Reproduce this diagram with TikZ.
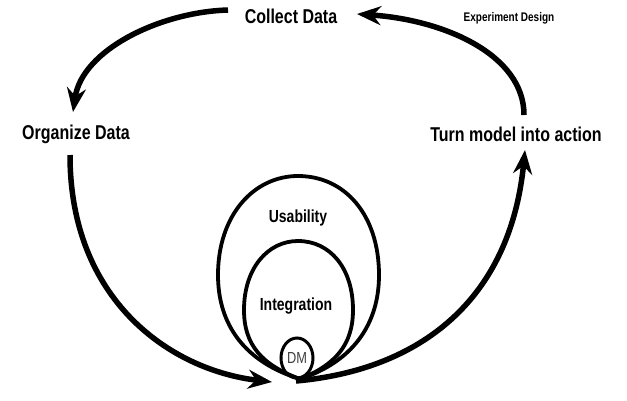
\documentclass[tikz,border=0pt]{standalone}
\usepackage{fontspec}
\setmainfont{Liberation Sans}
\newfontfamily\narrowfont[FakeStretch=0.80]{Liberation Sans}
\usetikzlibrary{arrows.meta,shapes.geometric}
\tikzset{
  lbl/.style={font=\narrowfont\bfseries\fontsize{20}{22}\selectfont, inner sep=0pt},
  inlbl/.style={font=\narrowfont\bfseries\fontsize{17.5}{20}\selectfont, inner sep=0pt},
  small/.style={font=\narrowfont\bfseries\fontsize{12.5}{14}\selectfont, inner sep=0pt},
  cyc/.style={line width=5.5pt, -{Stealth[length=24pt,width=19pt,inset=8pt]}},
  ring/.style={line width=3.8pt},
  dmstyle/.style={draw, line width=3pt, ellipse, minimum width=32pt, minimum height=40pt, inner sep=0pt, font=\narrowfont\fontsize{16}{18}\selectfont, text=black!75},
}
\begin{document}
\begin{tikzpicture}[x=1pt,y=-1pt]
\useasboundingbox (0,0) rectangle (627,400);
\fill[white] (0,0) rectangle (627,400);
% labels
\node[lbl] (collect) at (291,16) {Collect Data};
\node[small] (exp) at (509,18) {Experiment Design};
\node[lbl] (organize) at (76,134) {Organize Data};
\node[lbl] (turn) at (516,134) {Turn model into action};
% coordinates
\coordinate (tlS) at (228,10);
\coordinate (tlE) at (73,112);
\coordinate (trS) at (524,115);
\coordinate (trE) at (357,14);
\coordinate (blS) at (70,155);
\coordinate (blE) at (272,382);
\coordinate (brS) at (296,381);
\coordinate (brE) at (525,150);
\coordinate (bot) at (300,379);
% cycle arcs
\draw[cyc] (tlS) .. controls (160,12) and (82,50) .. (tlE);
\draw[cyc] (trS) .. controls (524,55) and (445,20) .. (trE);
\draw[cyc] (blS) .. controls (70,300) and (170,370) .. (blE);
\draw[cyc] (brS) .. controls (420,370) and (510,300) .. (brE);
% rings
\draw[ring] (bot) .. controls (245,362) and (218,325) .. (218,275)
  .. controls (218,215) and (254,176) .. (298,176)
  .. controls (345,176) and (379,215) .. (379,275)
  .. controls (379,325) and (352,362) .. (bot);
\draw[ring] (bot) .. controls (262,365) and (244,345) .. (244,310)
  .. controls (244,268) and (268,241) .. (298,241)
  .. controls (330,241) and (353,268) .. (353,310)
  .. controls (353,345) and (335,365) .. (bot);
\node[dmstyle] (dm) at (297,358) {DM};
\node[inlbl] (usab) at (298,218) {Usability};
\node[inlbl] (integ) at (296,306) {Integration};
\end{tikzpicture}
\end{document}
